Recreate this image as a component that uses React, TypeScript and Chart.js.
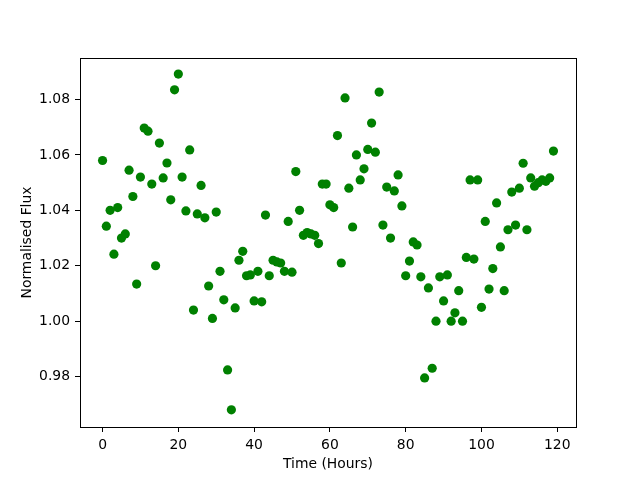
import React, { useEffect, useRef } from "react";
import { Chart, registerables } from "chart.js";

Chart.register(...registerables);

const hours: number[] = [
  0, 1, 2, 3, 4, 5, 6, 7, 8, 9, 10, 11, 12, 13, 14, 15, 16, 17, 18, 19,
  20, 21, 22, 23, 24, 25, 26, 27, 28, 29, 30, 31, 32, 33, 34, 35, 36, 37, 38, 39,
  40, 41, 42, 43, 44, 45, 46, 47, 48, 49, 50, 51, 52, 53, 54, 55, 56, 57, 58, 59,
  60, 61, 62, 63, 64, 65, 66, 67, 68, 69, 70, 71, 72, 73, 74, 75, 76, 77, 78, 79,
  80, 81, 82, 83, 84, 85, 86, 87, 88, 89, 90, 91, 92, 93, 94, 95, 96, 97, 98, 99,
  100, 101, 102, 103, 104, 105, 106, 107, 108, 109, 110, 111, 112, 113, 114, 115, 116, 117, 118, 119,
];

const flux: number[] = [
  1.058, 1.0343, 1.04, 1.0242, 1.041, 1.03, 1.0315, 1.0545, 1.045, 1.0134,
  1.052, 1.0697, 1.0686, 1.0495, 1.02, 1.0643, 1.0517, 1.0571, 1.0438, 1.0835,
  1.0892, 1.052, 1.0398, 1.0618, 1.004, 1.0387, 1.049, 1.0373, 1.0127, 1.001,
  1.0394, 1.018, 1.0077, 0.9824, 0.968, 1.0048, 1.022, 1.0252, 1.0164, 1.0167,
  1.0073, 1.018, 1.007, 1.0383, 1.0164, 1.022, 1.0214, 1.021, 1.018, 1.036,
  1.0177, 1.054, 1.04, 1.031, 1.032, 1.0315, 1.031, 1.028, 1.0495, 1.0495,
  1.042, 1.041, 1.067, 1.021, 1.0806, 1.048, 1.034, 1.06, 1.051, 1.055,
  1.062, 1.0715, 1.061, 1.0827, 1.0347, 1.0484, 1.03, 1.047, 1.0528, 1.0416,
  1.0164, 1.0217, 1.0286, 1.0275, 1.016, 0.9795, 1.012, 0.983, 1.0, 1.016,
  1.0073, 1.0167, 1.0, 1.003, 1.011, 1.0, 1.023, 1.051, 1.0224, 1.051,
  1.005, 1.036, 1.0116, 1.019, 1.0427, 1.0268, 1.011, 1.033, 1.0466, 1.0347,
  1.048, 1.057, 1.033, 1.0517, 1.0487, 1.05, 1.051, 1.0505, 1.0517, 1.0614,
];

const xTicks: number[] = [0, 20, 40, 60, 80, 100, 120];
const yTicks: number[] = [0.98, 1.0, 1.02, 1.04, 1.06, 1.08];

const xLabel = "Time (Hours)";
const yLabel = "Normalised Flux";

const FONT = "'DejaVu Sans', sans-serif";

const boxPlugin = {
  id: "box",
  afterDraw(chart: any) {
    const { ctx, chartArea } = chart;
    ctx.save();
    ctx.strokeStyle = "#000";
    ctx.lineWidth = 1;
    ctx.strokeRect(
      Math.round(chartArea.left) + 0.5,
      Math.round(chartArea.top) + 0.5,
      Math.round(chartArea.right - chartArea.left),
      Math.round(chartArea.bottom - chartArea.top)
    );
    ctx.restore();
  },
};

export default function App() {
  const ref = useRef<HTMLCanvasElement | null>(null);

  useEffect(() => {
    document.body.style.margin = "0";
    const canvas = ref.current;
    if (!canvas) return;
    const chart = new Chart(canvas, {
      type: "scatter",
      data: {
        datasets: [
          {
            data: hours.map((h, i) => ({ x: h, y: flux[i] })),
            backgroundColor: "#008000",
            borderColor: "#008000",
            pointRadius: 4.6,
            pointBorderWidth: 0,
            pointHoverRadius: 4.6,
          },
        ],
      },
      options: {
        animation: false,
        responsive: false,
        maintainAspectRatio: false,
        layout: { padding: { left: 0, right: 64, top: 58, bottom: 0 } },
        plugins: {
          legend: { display: false },
          tooltip: { enabled: false },
        },
        scales: {
          x: {
            type: "linear",
            min: -5.95,
            max: 124.95,
            afterBuildTicks: (scale: any) => {
              scale.ticks = xTicks.map((v) => ({ value: v }));
            },
            afterFit: (scale: any) => {
              scale.height = 53;
            },
            grid: {
              drawOnChartArea: false,
              drawTicks: true,
              tickLength: 5,
              tickColor: "#000",
            },
            border: { display: true, color: "#000" },
            ticks: {
              color: "#000",
              font: { family: FONT, size: 13.9 },
              padding: 5,
              maxRotation: 0,
              callback: (v: any) => String(v),
            },
            title: {
              display: true,
              text: xLabel,
              color: "#000",
              font: { family: FONT, size: 13.9 },
              padding: 7,
            },
          },
          y: {
            type: "linear",
            min: 0.9618,
            max: 1.095,
            afterBuildTicks: (scale: any) => {
              scale.ticks = yTicks.map((v) => ({ value: v }));
            },
            afterFit: (scale: any) => {
              scale.width = 80;
            },
            grid: {
              drawOnChartArea: false,
              drawTicks: true,
              tickLength: 5,
              tickColor: "#000",
            },
            border: { display: true, color: "#000" },
            ticks: {
              color: "#000",
              font: { family: FONT, size: 13.9 },
              padding: 5,
              callback: (v: any) => Number(v).toFixed(2),
            },
            title: {
              display: true,
              text: yLabel,
              color: "#000",
              font: { family: FONT, size: 13.9 },
              padding: 19,
            },
          },
        },
      },
      plugins: [boxPlugin],
    });
    return () => chart.destroy();
  }, []);

  return (
    <div style={{ position: "absolute", left: 0, top: 0, width: 640, height: 480, background: "#fff" }}>
      <canvas ref={ref} width={640} height={480} style={{ width: 640, height: 480 }} />
    </div>
  );
}
